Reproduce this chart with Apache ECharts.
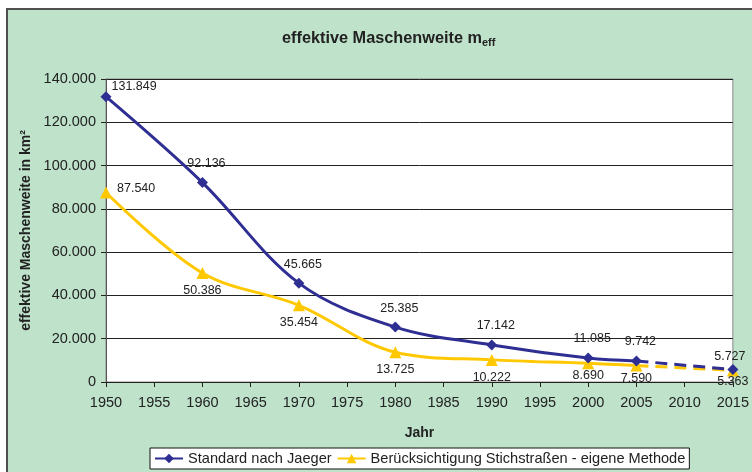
<!DOCTYPE html>
<html><head><meta charset="utf-8">
<script src="https://cdn.jsdelivr.net/npm/echarts@6/dist/echarts.min.js"></script>
<style>
html,body{margin:0;padding:0;background:#fff;}
#frame{position:absolute;left:6px;top:8px;width:800px;height:500px;background:#bfe2ca;border:2px solid #505050;box-sizing:border-box;}
#chart{position:absolute;left:0;top:0;width:752px;height:472px;}
</style></head><body>
<div id="frame"></div>
<div id="chart"></div>
<script>
// ---- data ----
var years = [1950, 1960, 1970, 1980, 1990, 2000, 2005];
var jaeger = [131849, 92136, 45665, 25385, 17142, 11085, 9742];
var stich = [87540, 50386, 35454, 13725, 10222, 8690, 7590];
var forecastYears = [2005, 2015];
var jaegerForecast = [9742, 5727];
var stichForecast = [7590, 5363];
var nameJaeger = 'Standard nach Jaeger';
var nameStich = 'Berücksichtigung Stichstraßen - eigene Methode';
var titleMain = 'effektive Maschenweite m';
var titleSub = 'eff';
var yName = 'effektive Maschenweite in km²';
var xName = 'Jahr';

var BLUE = '#2f2f93', YELLOW = '#ffc800';
function fmt(v){ return String(Math.round(v)).replace(/\B(?=(\d{3})+(?!\d))/g, '.'); }
function pairs(xs, ys){ return xs.map(function(x,i){ return [x, ys[i]]; }); }

var labelFont = {fontFamily:'Liberation Sans, Arial, sans-serif', fontSize:12.5, color:'#222'};

var jaegerData = pairs(years, jaeger).map(function(p,i){
  var d = {value:p};
  if(i===0) d.label = {position:'right', distance:0, offset:[0,-10]};
  return d;
});
var stichData = pairs(years, stich).map(function(p,i){
  var d = {value:p};
  if(i===0) d.label = {position:'right', distance:5, offset:[0,-4]};
  if(i===5 || i===6) d.label = {distance:0};
  return d;
});
var jaegerFcData = pairs(forecastYears, jaegerForecast).map(function(p,i){
  return i===0 ? {value:p, symbol:'none', label:{show:false}} : {value:p, label:{distance:1, offset:[-3,0]}};
});
var stichFcData = pairs(forecastYears, stichForecast).map(function(p,i){
  return i===0 ? {value:p, symbol:'none', label:{show:false}} : {value:p, label:{distance:-1}};
});

var chart = echarts.init(document.getElementById('chart'), null, {renderer:'canvas'});
chart.setOption({
  backgroundColor:'transparent',
  animation:false,
  title:{
    text:'{a|'+titleMain+'}{s|'+titleSub+'}',
    left:277, top:24,
    textStyle:{rich:{
      a:{fontFamily:'Liberation Sans, Arial, sans-serif', fontWeight:'bold', fontSize:16.3, color:'#222'},
      s:{fontFamily:'Liberation Sans, Arial, sans-serif', fontWeight:'bold', fontSize:11, color:'#222', verticalAlign:'bottom', padding:[8,0,0,0]}
    }}
  },
  legend:{
    data:[nameJaeger, nameStich],
    left:150, top:448,
    padding:[3,4,3,4],
    itemGap:5, itemWidth:28, itemHeight:12,
    backgroundColor:'#fff', borderColor:'#111', borderWidth:1, borderRadius:0,
    textStyle:{fontFamily:'Liberation Sans, Arial, sans-serif', fontSize:14.6, color:'#222'}
  },
  grid:{left:106, right:16, top:79, bottom:90, containLabel:false, show:true, backgroundColor:'#fff', borderColor:'#888', borderWidth:1},
  xAxis:{
    type:'value', min:1950, max:2015, interval:5,
    name:xName, nameLocation:'middle', nameGap:44,
    nameTextStyle:{fontFamily:'Liberation Sans, Arial, sans-serif', fontWeight:'bold', fontSize:14, color:'#222'},
    axisLine:{show:true, onZero:false, lineStyle:{color:'#222', width:1}},
    axisTick:{show:true, inside:false, length:5, lineStyle:{color:'#222'}},
    axisLabel:{margin:13, fontFamily:'Liberation Sans, Arial, sans-serif', fontSize:14.5, color:'#222', formatter:function(v){return String(v);}},
    splitLine:{show:false}
  },
  yAxis:{
    type:'value', min:0, max:140000, interval:20000,
    name:yName, nameLocation:'middle', nameGap:70, nameRotate:90,
    nameTextStyle:{fontFamily:'Liberation Sans, Arial, sans-serif', fontWeight:'bold', fontSize:14, color:'#222'},
    axisLine:{show:true, lineStyle:{color:'#555', width:1}},
    axisTick:{show:true, inside:false, length:5, lineStyle:{color:'#222'}},
    axisLabel:{margin:10, fontFamily:'Liberation Sans, Arial, sans-serif', fontSize:14.5, color:'#222', formatter:fmt},
    splitLine:{show:true, lineStyle:{color:'#222', width:1}}
  },
  series:[
    {name:nameStich, type:'line', data:stichData, smooth:0.35, z:3,
     symbol:'triangle', symbolSize:12, showAllSymbol:true,
     lineStyle:{color:YELLOW, width:3}, itemStyle:{color:YELLOW},
     label:Object.assign({show:true, position:'bottom', distance:5, formatter:function(p){return fmt(p.value[1]);}}, labelFont)},
    {name:nameStich+' ', type:'line', data:stichFcData, z:3,
     symbol:'triangle', symbolSize:12,
     lineStyle:{color:YELLOW, width:3, type:[12,7]}, itemStyle:{color:YELLOW},
     label:Object.assign({show:true, position:'bottom', distance:4, formatter:function(p){return fmt(p.value[1]);}}, labelFont)},
    {name:nameJaeger, type:'line', data:jaegerData, smooth:0.35, z:4,
     symbol:'diamond', symbolSize:11, showAllSymbol:true,
     lineStyle:{color:BLUE, width:3}, itemStyle:{color:BLUE},
     label:Object.assign({show:true, position:'top', distance:7, offset:[4,0], formatter:function(p){return fmt(p.value[1]);}}, labelFont)},
    {name:nameJaeger+' ', type:'line', data:jaegerFcData, z:4,
     symbol:'diamond', symbolSize:11,
     lineStyle:{color:BLUE, width:3, type:[12,7]}, itemStyle:{color:BLUE},
     label:Object.assign({show:true, position:'top', distance:5, formatter:function(p){return fmt(p.value[1]);}}, labelFont)}
  ]
});
</script>
</body></html>
